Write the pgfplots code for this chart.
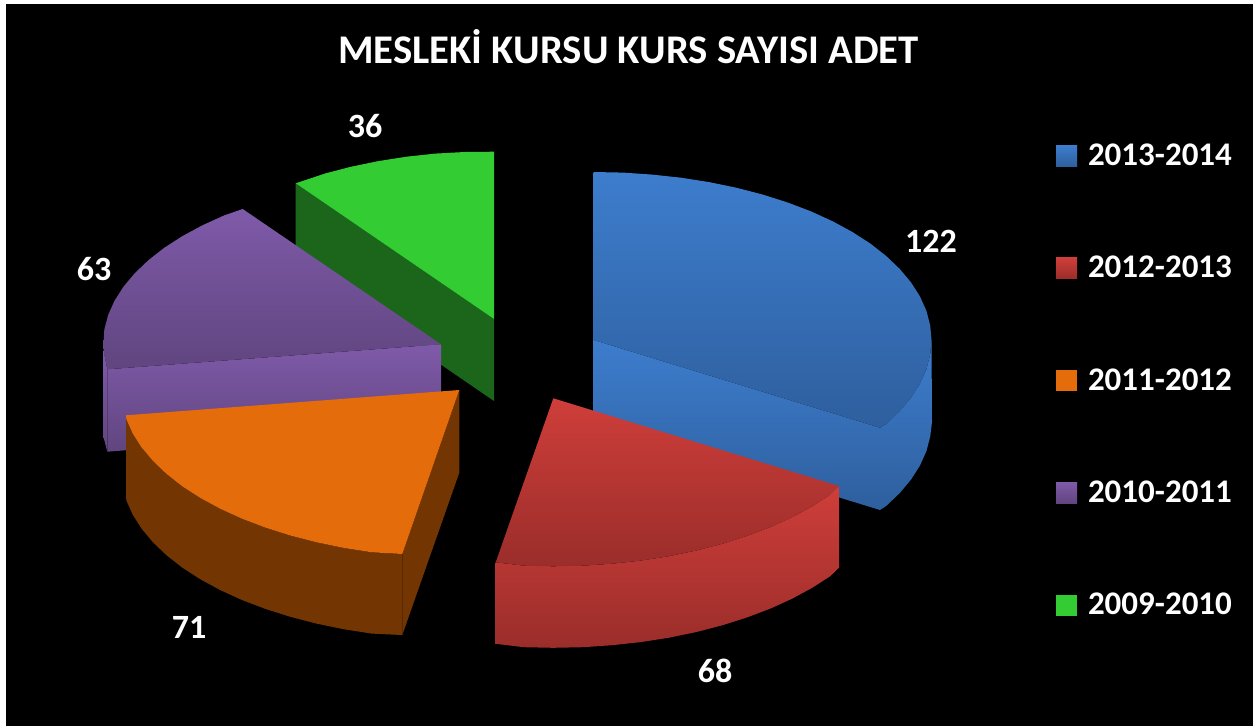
\documentclass[border=0pt]{standalone}
\usepackage{fontspec}
\setmainfont{Carlito}
\usepackage{pgfplots}
\pgfplotsset{compat=1.18}
\definecolor{blueT}{HTML}{3D7DCD}\definecolor{blueB}{HTML}{2E5F9E}
\definecolor{redT}{HTML}{CF3E3A}\definecolor{redB}{HTML}{9A2D2A}
\definecolor{purT}{HTML}{7F5AA9}\definecolor{purB}{HTML}{60457F}
\definecolor{oraT}{HTML}{E46C0A}\definecolor{oraS}{HTML}{733603}
\definecolor{greT}{HTML}{33CC33}\definecolor{greS}{HTML}{1C661C}
\newcommand{\lab}[3]{\node[text=white,font=\fontsize{34}{38}\selectfont\bfseries,inner sep=0pt] at (axis cs:#1,#2) {#3};}
\begin{document}
\begin{tikzpicture}
\begin{axis}[
  scale only axis,width=1253pt,height=726pt,
  xmin=0,xmax=1253,ymin=0,ymax=726,y dir=reverse,
  axis lines=none,
  legend style={at={(axis cs:1056,141.5)},anchor=north west,draw=none,fill=none,
    text=white,font=\fontsize{33}{36}\selectfont\bfseries,
    inner sep=0pt,outer sep=0pt,row sep=86.3pt,
    nodes={inner sep=0pt,text height=24pt,text depth=2pt,anchor=base west}},
  legend cell align=left,
  every axis plot/.append style={draw=none,forget plot},
]
\addlegendimage{legend image code/.code={\fill[top color=blueT,bottom color=blueB] (0pt,-1pt) rectangle (21pt,20pt);}}
\addlegendentry{\hspace{11pt}2013-2014}
\addlegendimage{legend image code/.code={\fill[top color=redT,bottom color=redB] (0pt,-1pt) rectangle (21pt,20pt);}}
\addlegendentry{\hspace{11pt}2012-2013}
\addlegendimage{legend image code/.code={\fill[oraT] (0pt,-1pt) rectangle (21pt,20pt);}}
\addlegendentry{\hspace{11pt}2011-2012}
\addlegendimage{legend image code/.code={\fill[top color=purT,bottom color=purB] (0pt,-1pt) rectangle (21pt,20pt);}}
\addlegendentry{\hspace{11pt}2010-2011}
\addlegendimage{legend image code/.code={\fill[greT] (0pt,-1pt) rectangle (21pt,20pt);}}
\addlegendentry{\hspace{11pt}2009-2010}

% page and background
\addplot[fill=white] coordinates {(0,0)(1253,0)(1253,726)(0,726)};
\addplot[fill=black] coordinates {(6,4)(1253,4)(1253,726)(6,726)};

% green 36
\addplot[fill=greS] coordinates {(295.7,183.3)(494,319)(494,401)(295.7,265)};
\addplot[fill=greT] coordinates {(494,319)(295.7,183.3)(325,173.5)(351.2,166.7)(378.4,161.1)(406.5,156.7)(435.3,153.6)(464.5,152)(494,151.7)};

% purple 63
\addplot[shade,top color=purT,bottom color=purB] coordinates {(107.3,369.3)(441,344.3)(441,426)(107.3,451.7)};
\addplot[shade,top color=purT,bottom color=purB] coordinates {(103.5,350)(107.3,369.3)(107.3,451.7)(103.5,437)};
\addplot[shade,top color=purT,bottom color=purB] coordinates {(441,344.3)(242.7,209)(223.7,215.6)(202,225.5)(182.1,236.3)(164.1,247.9)(148.3,260.3)(134.7,273.3)(123.4,286.8)(114.5,300.8)(108.1,315.1)(104.3,329.7)(103.5,344.3)(104,353.3)(107.3,369.3)};

% blue 122
\addplot[shade,top color=blueT,bottom color=blueB] coordinates {(593.5,340)(880,427.7)(880,510)(593.5,422)};
\addplot[shade,top color=blueT,bottom color=blueB] coordinates {(880,427.7)(886.2,424)(899.8,411)(911.1,397.5)(920,383.5)(926.4,369.2)(930.2,354.6)(931.5,340)(932,422)(930.2,436.6)(926.4,451.2)(920,465.5)(911.1,479.5)(899.8,493)(886.2,506)(880,510)};
\addplot[shade,top color=blueT,bottom color=blueB] coordinates {(593.5,340)(593.5,172)(623,172.6)(652.2,174.6)(681,177.7)(709.1,182.1)(736.3,187.7)(762.5,194.5)(787.4,202.4)(810.8,211.3)(832.5,221.2)(852.4,232)(870.4,243.6)(886.2,256)(899.8,269)(911.1,282.5)(920,296.5)(926.4,310.8)(930.2,325.4)(931.5,340)(930.2,354.6)(926.4,369.2)(920,383.5)(911.1,397.5)(899.8,411)(886.2,424)(880,427.7)};

% red 68
\addplot[shade,top color=redT,bottom color=redB] coordinates {(495.7,562.3)(523.8,565.7)(553.3,566.3)(582.8,565.7)(612,563.7)(640.8,560.6)(668.9,556.2)(696.1,550.6)(722.3,543.8)(747.2,535.9)(770.6,527)(792.3,517.1)(812.2,506.3)(830.2,494.7)(839,486)(839,567.7)(830.2,576.2)(812.2,587.8)(792.3,598.6)(770.6,608.5)(747.2,617.4)(722.3,625.3)(696.1,632.1)(668.9,637.7)(640.8,642.1)(612,645.2)(582.8,647.2)(553.3,647.8)(523.8,647.2)(495.7,643.8)};
\addplot[shade,top color=redT,bottom color=redB] coordinates {(553.3,398.3)(839,486)(830.2,494.7)(812.2,506.3)(792.3,517.1)(770.6,527)(747.2,535.9)(722.3,543.8)(696.1,550.6)(668.9,556.2)(640.8,560.6)(612,563.7)(582.8,565.7)(553.3,566.3)(523.8,565.7)(495.7,562.3)};

% orange 71
\addplot[fill=oraS] coordinates {(459.3,390)(459.3,472.7)(402.3,635)(402.3,554)};
\addplot[fill=oraS] coordinates {(402.3,554)(371.8,552.3)(343.7,547.9)(316.5,542.3)(290.3,535.5)(265.4,527.6)(242,518.7)(220.3,508.8)(200.4,498)(182.4,486.4)(166.6,474)(153,461)(141.7,447.5)(132.8,433.5)(126.4,419.2)(126,415.3)(126,496.6)(126.4,500.5)(132.8,514.8)(141.7,528.8)(153,542.3)(166.6,555.3)(182.4,567.7)(200.4,579.3)(220.3,590.1)(242,600)(265.4,608.9)(290.3,616.8)(316.5,623.6)(343.7,629.2)(371.8,633.6)(402.3,635)};
\addplot[fill=oraT] coordinates {(459.3,390)(126,415.3)(126.4,419.2)(132.8,433.5)(141.7,447.5)(153,461)(166.6,474)(182.4,486.4)(200.4,498)(220.3,508.8)(242,518.7)(265.4,527.6)(290.3,535.5)(316.5,542.3)(343.7,547.9)(371.8,552.3)(402.3,554)};

% title and value labels
\node[text=white,font=\fontsize{40.7}{46}\selectfont\bfseries,inner sep=0pt] at (axis cs:628.5,47) {MESLEKİ KURSU KURS SAYISI ADET};
\lab{365}{126}{36}
\lab{931}{241}{122}
\lab{94}{269}{63}
\lab{189}{627}{71}
\lab{715}{671}{68}
\end{axis}
\end{tikzpicture}
\end{document}
